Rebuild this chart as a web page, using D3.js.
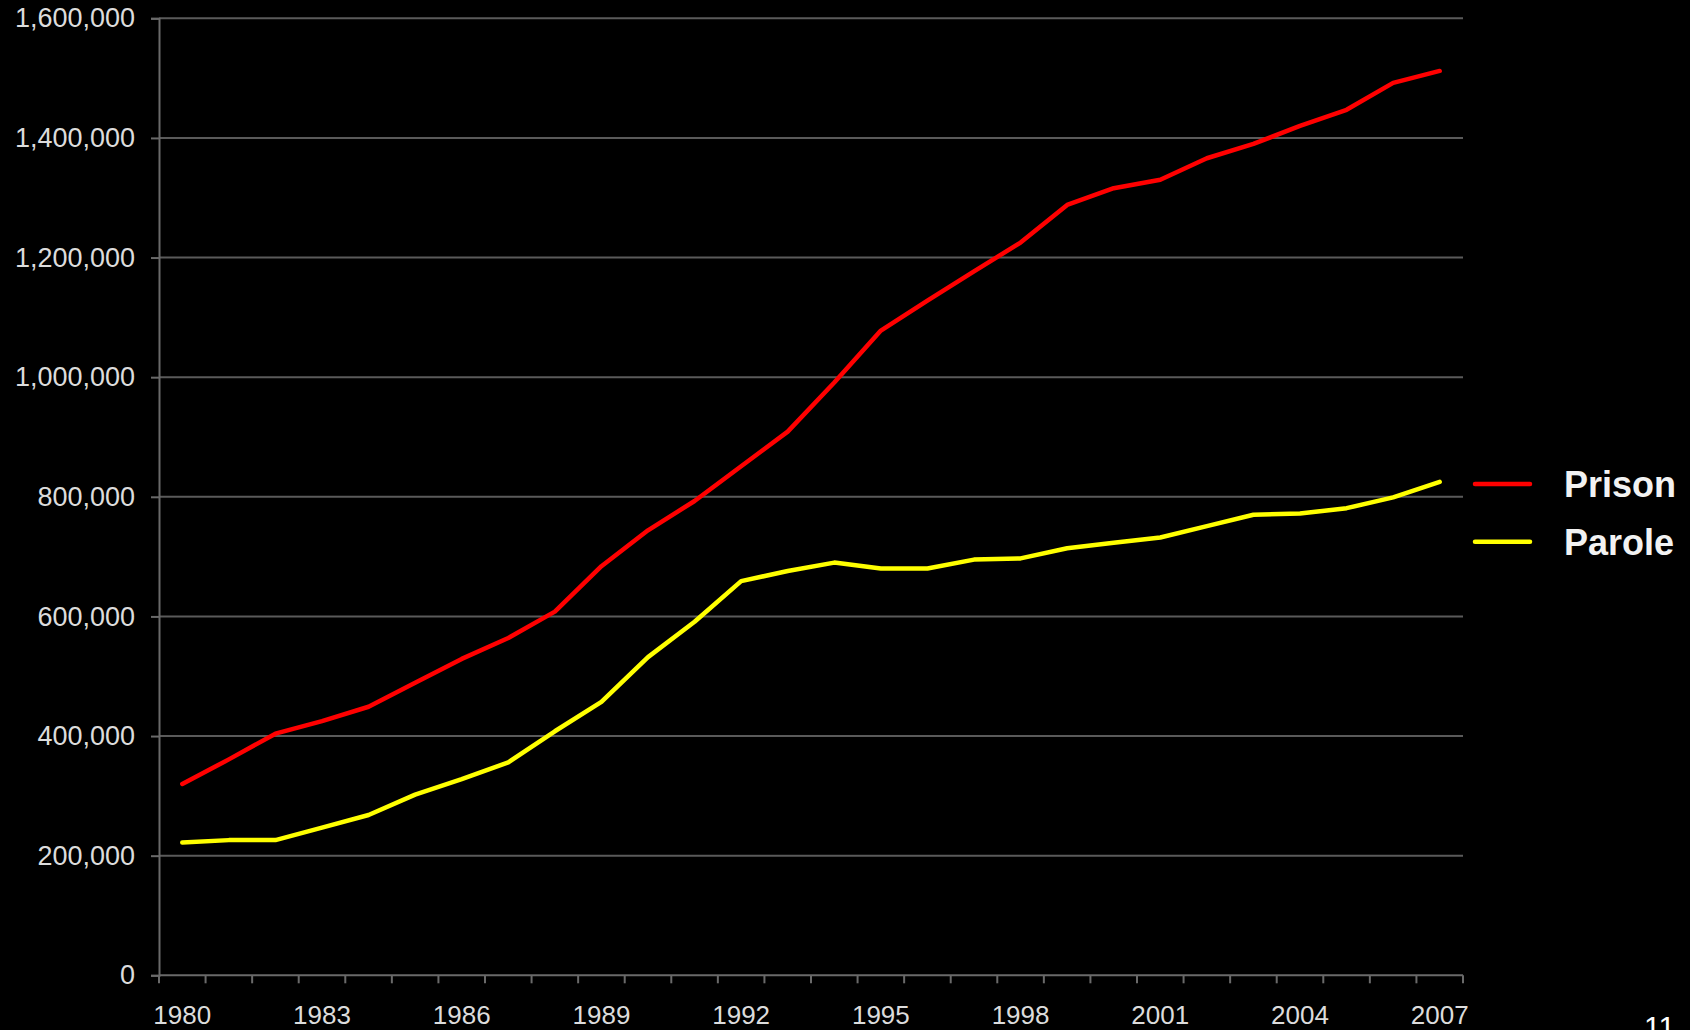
<!DOCTYPE html>
<html>
<head>
<meta charset="utf-8">
<script src="https://cdn.jsdelivr.net/npm/d3@7"></script>
<style>
  body { margin: 0; background: #000; }
  svg { display: block; }
  text { font-family: "Liberation Sans", Arial, sans-serif; }
</style>
</head>
<body>
<div id="chart"></div>
<script>
// data
var years = d3.range(1980, 2008);
var prison = [320000, 361000, 404000, 425000, 449000, 489000, 529000, 564000, 608000, 684000,
              744000, 793000, 851000, 909000, 991000, 1078000, 1128000, 1177000, 1225000, 1288000,
              1316000, 1330000, 1366000, 1390000, 1420000, 1447000, 1492000, 1512000];
var parole = [222000, 226000, 226000, 247000, 268000, 302000, 328000, 356000, 408000, 457000,
              532000, 591000, 659000, 676000, 690000, 680000, 680000, 695000, 697000, 714000,
              723000, 732000, 751000, 770000, 772000, 781000, 799000, 825000];
var yTicks = [0, 200000, 400000, 600000, 800000, 1000000, 1200000, 1400000, 1600000];
var xLabels = [1980, 1983, 1986, 1989, 1992, 1995, 1998, 2001, 2004, 2007];
var seriesNames = ["Prison", "Parole"];
var seriesColors = ["#ff0000", "#ffff00"];

var W = 1690, H = 1030;
var plot = {left: 159, right: 1463, top: 18.3, bottom: 975.3};

var svg = d3.select("#chart").append("svg")
    .attr("width", W)
    .attr("height", H)
    .style("background", "#000");

var x = d3.scaleBand().domain(years).range([plot.left, plot.right]);
var y = d3.scaleLinear().domain([0, 1600000]).range([plot.bottom, plot.top]);

// gridlines
svg.append("g").selectAll("line")
    .data(yTicks.slice(1))
    .enter().append("line")
    .attr("x1", plot.left)
    .attr("x2", plot.right)
    .attr("y1", d => y(d))
    .attr("y2", d => y(d))
    .attr("stroke", "#5a5a5a")
    .attr("stroke-width", 2);

// y axis
var yAxis = svg.append("g")
    .attr("transform", "translate(" + plot.left + ",0)")
    .call(d3.axisLeft(y).tickValues(yTicks).tickFormat(d3.format(",")).tickSize(8).tickPadding(16));
yAxis.select(".domain").attr("stroke", "#6a6a6a").attr("stroke-width", 2);
yAxis.selectAll(".tick line").attr("stroke", "#6a6a6a").attr("stroke-width", 2);
yAxis.selectAll("text").attr("fill", "#dcdcdc").style("font-size", "27px");

// x axis: labels every 3 years, ticks on the category boundaries
var xAxis = svg.append("g")
    .attr("transform", "translate(0," + plot.bottom + ")")
    .call(d3.axisBottom(x).tickValues(xLabels).tickSize(0).tickPadding(30));
xAxis.select(".domain").remove();
xAxis.selectAll("text").attr("fill", "#dcdcdc").style("font-size", "26px");

svg.append("line")
    .attr("x1", plot.left)
    .attr("x2", plot.right)
    .attr("y1", plot.bottom)
    .attr("y2", plot.bottom)
    .attr("stroke", "#6a6a6a")
    .attr("stroke-width", 2);

svg.append("g").selectAll("line")
    .data(years.map(d => x(d)).concat([plot.right]))
    .enter().append("line")
    .attr("x1", d => d)
    .attr("x2", d => d)
    .attr("y1", plot.bottom)
    .attr("y2", plot.bottom + 8)
    .attr("stroke", "#6a6a6a")
    .attr("stroke-width", 2);

// lines
var line = d3.line()
    .x((d, i) => x(years[i]) + x.bandwidth() / 2)
    .y(d => y(d));

[prison, parole].forEach(function(values, i) {
  svg.append("path")
      .datum(values)
      .attr("fill", "none")
      .attr("stroke", seriesColors[i])
      .attr("stroke-width", 4.5)
      .attr("stroke-linejoin", "round")
      .attr("stroke-linecap", "round")
      .attr("d", line);
});

// legend
var legend = svg.append("g").attr("transform", "translate(1475,484)");
seriesNames.forEach(function(name, i) {
  var g = legend.append("g").attr("transform", "translate(0," + (i * 57.7) + ")");
  g.append("line")
      .attr("x1", 0)
      .attr("x2", 55)
      .attr("stroke", seriesColors[i])
      .attr("stroke-width", 4.5)
      .attr("stroke-linecap", "round");
  g.append("text")
      .attr("x", 89)
      .attr("y", 13)
      .attr("fill", "#f2f2f2")
      .style("font-size", "36px")
      .style("font-weight", "bold")
      .text(name);
});

// slide number
svg.append("text")
    .attr("x", 1644)
    .attr("y", 1037)
    .attr("fill", "#ffffff")
    .style("font-size", "30px")
    .text("11");
</script>
</body>
</html>
